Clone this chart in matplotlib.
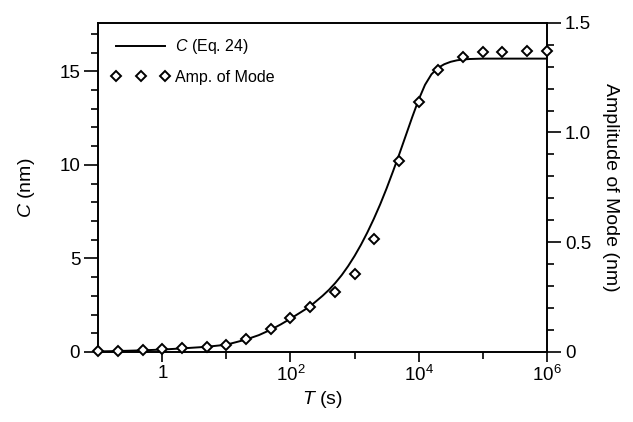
import numpy as np
import matplotlib
matplotlib.use('Agg')
import matplotlib.pyplot as plt
from matplotlib.ticker import FixedLocator, FixedFormatter, MultipleLocator, NullFormatter

plt.rcParams['font.family'] = ['Liberation Sans', 'DejaVu Sans']
plt.rcParams['mathtext.fontset'] = 'custom'
plt.rcParams['mathtext.rm'] = 'Liberation Sans'
plt.rcParams['mathtext.it'] = 'Liberation Sans:italic'

# curve C (Eq. 24) (T in s, C in nm)
line_T = [0.1, 0.2, 0.5, 1, 2, 5, 10, 20, 32, 50, 71, 100, 141, 200, 251, 316, 398, 501,
          631, 794, 1000, 1259, 1585, 1995, 2512, 3162, 3981, 5012, 6310, 7943, 1e4,
          12589, 15849, 19953, 25119, 31623, 39811, 50119, 63096, 1e5, 1e6]
line_C = [0.03, 0.05, 0.09, 0.13, 0.19, 0.28, 0.39, 0.66, 0.90, 1.20, 1.48, 1.78, 2.10,
          2.43, 2.71, 3.00, 3.32, 3.69, 4.11, 4.59, 5.13, 5.73, 6.39, 7.11, 7.89, 8.74,
          9.65, 10.59, 11.57, 12.55, 13.48, 14.28, 14.84, 15.18, 15.38, 15.51, 15.59,
          15.635, 15.66, 15.68, 15.68]

# amplitude of mode (nm), right axis
amp_T = [0.1, 0.2, 0.5, 1, 2, 5, 10, 20, 50, 100, 200, 500, 1000, 2000,
         5000, 1e4, 2e4, 5e4, 1e5, 2e5, 5e5, 1e6]
amp = [0.003, 0.004, 0.01, 0.012, 0.017, 0.024, 0.033, 0.058, 0.104, 0.154, 0.204, 0.271,
       0.353, 0.515, 0.872, 1.14, 1.285, 1.345, 1.368, 1.368, 1.37, 1.37]

fig = plt.figure(figsize=(6.33, 4.22), dpi=100)
ax = fig.add_axes([0.1553, 0.1659, 0.7084, 0.7803])
ax2 = ax.twinx()

ax.plot(line_T, line_C, color='black', lw=1.4)
ax2.plot(amp_T, amp, linestyle='none', marker='D', ms=5.2, mfc='white', mec='black',
         mew=1.4, clip_on=False, zorder=5)

ax.set_xscale('log')
ax.set_xlim(0.1, 1e6)
ax.set_ylim(0, 17.6)
ax2.set_ylim(0, 1.5)

ax.xaxis.set_major_locator(FixedLocator([1, 1e2, 1e4, 1e6]))
ax.xaxis.set_major_formatter(FixedFormatter(['1', '$10^{2}$', '$10^{4}$', '$10^{6}$']))
ax.xaxis.set_minor_locator(FixedLocator([10, 1e3, 1e5]))
ax.xaxis.set_minor_formatter(NullFormatter())
ax.yaxis.set_major_locator(FixedLocator([0, 5, 10, 15]))
ax.yaxis.set_minor_locator(MultipleLocator(1))
ax2.yaxis.set_major_locator(FixedLocator([0, 0.5, 1.0, 1.5]))
ax2.yaxis.set_major_formatter(FixedFormatter(['0', '0.5', '1.0', '1.5']))
ax2.yaxis.set_minor_locator(MultipleLocator(0.1))

for a in (ax, ax2):
    for s in a.spines.values():
        s.set_linewidth(1.2)
ax.tick_params(axis='y', which='major', length=10, width=1.2, labelsize=13.5, pad=3)
ax.tick_params(axis='y', which='minor', length=5, width=1.2)
ax.tick_params(axis='x', which='major', length=7.5, width=1.2, labelsize=13.5, pad=2)
ax.tick_params(axis='x', which='minor', length=5, width=1.2)
ax2.tick_params(axis='y', which='major', length=10, width=1.2, labelsize=13.5, pad=3)
ax2.tick_params(axis='y', which='minor', length=5, width=1.2)

ax.set_xlabel('$T$ (s)', fontsize=14, labelpad=3)
ax.set_ylabel('$C$ (nm)', fontsize=14, labelpad=16)
ax2.set_ylabel('Amplitude of Mode (nm)', fontsize=14, rotation=270, labelpad=20)

# legend with both series
h1, = ax.plot([], [], color='black', lw=1.4)
h2, = ax.plot([], [], linestyle='none', marker='D', ms=5.2, mfc='white', mec='black', mew=1.4)
ax.legend([h1, h2], ['$C$ (Eq. 24)', 'Amp. of Mode'], loc='upper left', frameon=False,
          fontsize=11.5, numpoints=3, handlelength=3.7, handletextpad=0.3,
          labelspacing=0.85, borderaxespad=0.4, bbox_to_anchor=(0.0, 0.995))

fig.savefig('out.png', dpi=100)
